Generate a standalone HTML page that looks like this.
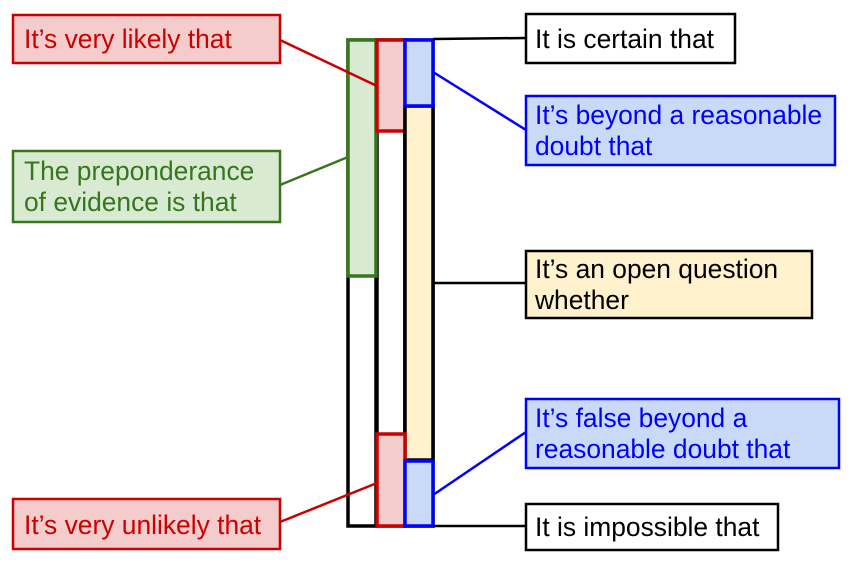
<!DOCTYPE html><html><head><style>body{margin:0;background:#fff}text{font-family:"Liberation Sans",sans-serif;font-size:26.4px}</style></head><body>
<svg width="856" height="568" xmlns="http://www.w3.org/2000/svg">
<g stroke-width="3.5">
<rect x="348" y="40" width="28" height="486" fill="none" stroke="#000"/>
<rect x="377" y="40" width="28" height="486" fill="none" stroke="#000"/>
<rect x="405" y="40" width="28" height="486" fill="none" stroke="#000"/>
<rect x="348" y="40" width="28" height="236" fill="#d9ead3" stroke="#38761d"/>
<rect x="377" y="40" width="28" height="91" fill="#f4cccc" stroke="#cc0000"/>
<rect x="405" y="106" width="28" height="354" fill="#fff2cc" stroke="#000"/>
<rect x="405" y="40" width="28" height="66" fill="#c9daf8" stroke="#0000ff"/>
<rect x="377" y="434" width="28" height="92" fill="#f4cccc" stroke="#cc0000"/>
<rect x="405" y="461" width="28" height="65" fill="#c9daf8" stroke="#0000ff"/>
<line x1="433" y1="39" x2="526" y2="38" stroke="#000" stroke-width="2.5"/>
<line x1="433" y1="72" x2="526" y2="130" stroke="#0000ff" stroke-width="2.5"/>
<line x1="433" y1="283" x2="526" y2="283" stroke="#000" stroke-width="2.5"/>
<line x1="433" y1="495" x2="526" y2="432" stroke="#0000ff" stroke-width="2.5"/>
<line x1="433" y1="526" x2="526" y2="526" stroke="#000" stroke-width="2.5"/>
<line x1="280" y1="40" x2="377" y2="86" stroke="#cc0000" stroke-width="2.5"/>
<line x1="280" y1="185" x2="348" y2="157" stroke="#38761d" stroke-width="2.5"/>
<line x1="280" y1="522" x2="377" y2="483" stroke="#cc0000" stroke-width="2.5"/>
</g>
<g stroke-width="2.5">
<rect x="13" y="15" width="267" height="48" fill="#f4cccc" stroke="#cc0000"/>
<rect x="13" y="151" width="267" height="71" fill="#d9ead3" stroke="#38761d"/>
<rect x="13" y="499" width="267" height="50" fill="#f4cccc" stroke="#cc0000"/>
<rect x="526" y="14" width="209" height="49" fill="#fff" stroke="#000"/>
<rect x="526" y="96" width="309" height="69" fill="#c9daf8" stroke="#0000ff"/>
<rect x="526" y="251" width="286" height="67" fill="#fff2cc" stroke="#000"/>
<rect x="526" y="399" width="313" height="69" fill="#c9daf8" stroke="#0000ff"/>
<rect x="526" y="504" width="252" height="46" fill="#fff" stroke="#000"/>
</g>
<text x="24" y="48" fill="#cc0000">It’s very likely that</text>
<text x="24" y="180" fill="#38761d">The preponderance</text>
<text x="24" y="211" fill="#38761d">of evidence is that</text>
<text x="24" y="534" fill="#cc0000">It’s very unlikely that</text>
<text x="535" y="48">It is certain that</text>
<text x="535" y="124" fill="#0000ff">It’s beyond a reasonable</text>
<text x="535" y="155" fill="#0000ff">doubt that</text>
<text x="535" y="278">It’s an open question</text>
<text x="535" y="309">whether</text>
<text x="535" y="427" fill="#0000ff">It’s false beyond a</text>
<text x="535" y="458" fill="#0000ff">reasonable doubt that</text>
<text x="535" y="536">It is impossible that</text>
</svg></body></html>
